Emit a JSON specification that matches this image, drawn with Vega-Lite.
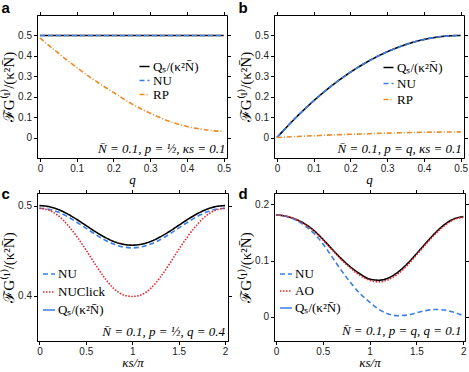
{
  "$schema": "https://vega.github.io/schema/vega-lite/v6.json",
  "padding": {"left": 1, "top": 0, "right": 0, "bottom": 0},
  "autosize": {"type": "pad"},
  "background": "#ffffff",
  "bounds": "flush",
  "columns": 2,
  "spacing": {"row": 35, "column": 46},
  "resolve": {"scale": {"color": "independent", "strokeDash": "independent"}, "legend": {"color": "independent", "strokeDash": "independent"}},
  "config": {
    "view": {"stroke": "#000000", "strokeWidth": 1},
    "axis": {"labelFont": "Liberation Sans", "labelFontSize": 10, "labelColor": "#222222", "tickColor": "#000000", "domainColor": "#000000", "tickSize": 3.5, "tickCount": 12, "labelPadding": 2, "grid": false, "labelFlush": false, "labelOverlap": false, "titleFont": "Liberation Serif", "titleFontWeight": "normal", "titleFontSize": 13, "titleColor": "#000000"},
    "axisX": {"titleFontStyle": "italic", "titleFontSize": 13, "titlePadding": 0},
    "axisY": {"titlePadding": 1, "titleFontSize": 15},
    "legend": {"orient": "none", "title": null, "symbolType": "stroke", "symbolStrokeWidth": 1.6, "labelFont": "Liberation Serif", "labelFontSize": 13, "labelColor": "#000000", "labelOffset": 2, "padding": 0},
    "title": {"font": "Liberation Sans", "fontSize": 15, "fontWeight": "bold", "anchor": "start", "frame": "bounds", "color": "#000000", "baseline": "alphabetic"},
    "line": {"interpolate": "monotone", "strokeWidth": 1.6},
    "text": {"font": "Liberation Serif", "fontSize": 13, "fontStyle": "italic", "color": "#000000"}
  },
  "datasets": {
    "a": [
      {"x": 0, "y": 0.5, "s": "Qₛ/(κ²N̄)"}, {"x": 0.5, "y": 0.5, "s": "Qₛ/(κ²N̄)"},
      {"x": 0, "y": 0.5, "s": "NU"}, {"x": 0.5, "y": 0.5, "s": "NU"},
      {"x": 0, "y": 0.488, "s": "RP"}, {"x": 0.025, "y": 0.45, "s": "RP"}, {"x": 0.05, "y": 0.413, "s": "RP"}, {"x": 0.075, "y": 0.377, "s": "RP"}, {"x": 0.1, "y": 0.343, "s": "RP"}, {"x": 0.125, "y": 0.31, "s": "RP"}, {"x": 0.15, "y": 0.279, "s": "RP"}, {"x": 0.175, "y": 0.249, "s": "RP"}, {"x": 0.2, "y": 0.221, "s": "RP"}, {"x": 0.225, "y": 0.192, "s": "RP"}, {"x": 0.25, "y": 0.165, "s": "RP"}, {"x": 0.275, "y": 0.141, "s": "RP"}, {"x": 0.3, "y": 0.119, "s": "RP"}, {"x": 0.325, "y": 0.099, "s": "RP"}, {"x": 0.35, "y": 0.081, "s": "RP"}, {"x": 0.375, "y": 0.066, "s": "RP"}, {"x": 0.4, "y": 0.054, "s": "RP"}, {"x": 0.425, "y": 0.045, "s": "RP"}, {"x": 0.45, "y": 0.038, "s": "RP"}, {"x": 0.475, "y": 0.033, "s": "RP"}, {"x": 0.5, "y": 0.03, "s": "RP"}
    ],
    "b": [
      {"x": 0, "y": 0, "s": "Qₛ/(κ²N̄)"}, {"x": 0.05, "y": 0.095, "s": "Qₛ/(κ²N̄)"}, {"x": 0.1, "y": 0.18, "s": "Qₛ/(κ²N̄)"}, {"x": 0.15, "y": 0.255, "s": "Qₛ/(κ²N̄)"}, {"x": 0.2, "y": 0.32, "s": "Qₛ/(κ²N̄)"}, {"x": 0.25, "y": 0.375, "s": "Qₛ/(κ²N̄)"}, {"x": 0.3, "y": 0.42, "s": "Qₛ/(κ²N̄)"}, {"x": 0.35, "y": 0.455, "s": "Qₛ/(κ²N̄)"}, {"x": 0.4, "y": 0.48, "s": "Qₛ/(κ²N̄)"}, {"x": 0.45, "y": 0.495, "s": "Qₛ/(κ²N̄)"}, {"x": 0.5, "y": 0.5, "s": "Qₛ/(κ²N̄)"},
      {"x": 0, "y": 0, "s": "NU"}, {"x": 0.05, "y": 0.095, "s": "NU"}, {"x": 0.1, "y": 0.18, "s": "NU"}, {"x": 0.15, "y": 0.255, "s": "NU"}, {"x": 0.2, "y": 0.32, "s": "NU"}, {"x": 0.25, "y": 0.375, "s": "NU"}, {"x": 0.3, "y": 0.42, "s": "NU"}, {"x": 0.35, "y": 0.455, "s": "NU"}, {"x": 0.4, "y": 0.48, "s": "NU"}, {"x": 0.45, "y": 0.495, "s": "NU"}, {"x": 0.5, "y": 0.5, "s": "NU"},
      {"x": 0, "y": 0, "s": "RP"}, {"x": 0.05, "y": 0.005, "s": "RP"}, {"x": 0.1, "y": 0.009, "s": "RP"}, {"x": 0.15, "y": 0.013, "s": "RP"}, {"x": 0.2, "y": 0.016, "s": "RP"}, {"x": 0.25, "y": 0.019, "s": "RP"}, {"x": 0.3, "y": 0.022, "s": "RP"}, {"x": 0.35, "y": 0.024, "s": "RP"}, {"x": 0.4, "y": 0.026, "s": "RP"}, {"x": 0.45, "y": 0.027, "s": "RP"}, {"x": 0.5, "y": 0.028, "s": "RP"}
    ],
    "c": [
      {"x": 0, "y": 0.5, "s": "Qₛ/(κ²N̄)"}, {"x": 0.1, "y": 0.4989, "s": "Qₛ/(κ²N̄)"}, {"x": 0.2, "y": 0.4958, "s": "Qₛ/(κ²N̄)"}, {"x": 0.3, "y": 0.4909, "s": "Qₛ/(κ²N̄)"}, {"x": 0.4, "y": 0.4848, "s": "Qₛ/(κ²N̄)"}, {"x": 0.5, "y": 0.478, "s": "Qₛ/(κ²N̄)"}, {"x": 0.6, "y": 0.4712, "s": "Qₛ/(κ²N̄)"}, {"x": 0.7, "y": 0.4651, "s": "Qₛ/(κ²N̄)"}, {"x": 0.8, "y": 0.4602, "s": "Qₛ/(κ²N̄)"}, {"x": 0.9, "y": 0.4571, "s": "Qₛ/(κ²N̄)"}, {"x": 1.0, "y": 0.456, "s": "Qₛ/(κ²N̄)"}, {"x": 1.1, "y": 0.4571, "s": "Qₛ/(κ²N̄)"}, {"x": 1.2, "y": 0.4602, "s": "Qₛ/(κ²N̄)"}, {"x": 1.3, "y": 0.4651, "s": "Qₛ/(κ²N̄)"}, {"x": 1.4, "y": 0.4712, "s": "Qₛ/(κ²N̄)"}, {"x": 1.5, "y": 0.478, "s": "Qₛ/(κ²N̄)"}, {"x": 1.6, "y": 0.4848, "s": "Qₛ/(κ²N̄)"}, {"x": 1.7, "y": 0.4909, "s": "Qₛ/(κ²N̄)"}, {"x": 1.8, "y": 0.4958, "s": "Qₛ/(κ²N̄)"}, {"x": 1.9, "y": 0.4989, "s": "Qₛ/(κ²N̄)"}, {"x": 2.0, "y": 0.5, "s": "Qₛ/(κ²N̄)"},
      {"x": 0, "y": 0.497, "s": "NU"}, {"x": 0.1, "y": 0.4959, "s": "NU"}, {"x": 0.2, "y": 0.4928, "s": "NU"}, {"x": 0.3, "y": 0.4879, "s": "NU"}, {"x": 0.4, "y": 0.4818, "s": "NU"}, {"x": 0.5, "y": 0.475, "s": "NU"}, {"x": 0.6, "y": 0.4682, "s": "NU"}, {"x": 0.7, "y": 0.4621, "s": "NU"}, {"x": 0.8, "y": 0.4572, "s": "NU"}, {"x": 0.9, "y": 0.4541, "s": "NU"}, {"x": 1.0, "y": 0.453, "s": "NU"}, {"x": 1.1, "y": 0.4541, "s": "NU"}, {"x": 1.2, "y": 0.4572, "s": "NU"}, {"x": 1.3, "y": 0.4621, "s": "NU"}, {"x": 1.4, "y": 0.4682, "s": "NU"}, {"x": 1.5, "y": 0.475, "s": "NU"}, {"x": 1.6, "y": 0.4818, "s": "NU"}, {"x": 1.7, "y": 0.4879, "s": "NU"}, {"x": 1.8, "y": 0.4928, "s": "NU"}, {"x": 1.9, "y": 0.4959, "s": "NU"}, {"x": 2.0, "y": 0.497, "s": "NU"},
      {"x": 0, "y": 0.497, "s": "NUClick"}, {"x": 0.1, "y": 0.495, "s": "NUClick"}, {"x": 0.2, "y": 0.489, "s": "NUClick"}, {"x": 0.3, "y": 0.479, "s": "NUClick"}, {"x": 0.4, "y": 0.466, "s": "NUClick"}, {"x": 0.5, "y": 0.451, "s": "NUClick"}, {"x": 0.6, "y": 0.435, "s": "NUClick"}, {"x": 0.7, "y": 0.42, "s": "NUClick"}, {"x": 0.8, "y": 0.408, "s": "NUClick"}, {"x": 0.9, "y": 0.401, "s": "NUClick"}, {"x": 1.0, "y": 0.399, "s": "NUClick"}, {"x": 1.1, "y": 0.401, "s": "NUClick"}, {"x": 1.2, "y": 0.408, "s": "NUClick"}, {"x": 1.3, "y": 0.42, "s": "NUClick"}, {"x": 1.4, "y": 0.435, "s": "NUClick"}, {"x": 1.5, "y": 0.451, "s": "NUClick"}, {"x": 1.6, "y": 0.466, "s": "NUClick"}, {"x": 1.7, "y": 0.479, "s": "NUClick"}, {"x": 1.8, "y": 0.489, "s": "NUClick"}, {"x": 1.9, "y": 0.495, "s": "NUClick"}, {"x": 2.0, "y": 0.497, "s": "NUClick"}
    ],
    "d": [
      {"x": 0, "y": 0.181, "s": "Qₛ/(κ²N̄)"}, {"x": 0.1, "y": 0.179, "s": "Qₛ/(κ²N̄)"}, {"x": 0.2, "y": 0.174, "s": "Qₛ/(κ²N̄)"}, {"x": 0.3, "y": 0.166, "s": "Qₛ/(κ²N̄)"}, {"x": 0.4, "y": 0.154, "s": "Qₛ/(κ²N̄)"}, {"x": 0.5, "y": 0.138, "s": "Qₛ/(κ²N̄)"}, {"x": 0.6, "y": 0.12, "s": "Qₛ/(κ²N̄)"}, {"x": 0.7, "y": 0.103, "s": "Qₛ/(κ²N̄)"}, {"x": 0.8, "y": 0.088, "s": "Qₛ/(κ²N̄)"}, {"x": 0.9, "y": 0.076, "s": "Qₛ/(κ²N̄)"}, {"x": 1.0, "y": 0.067, "s": "Qₛ/(κ²N̄)"}, {"x": 1.1, "y": 0.065, "s": "Qₛ/(κ²N̄)"}, {"x": 1.2, "y": 0.069, "s": "Qₛ/(κ²N̄)"}, {"x": 1.3, "y": 0.079, "s": "Qₛ/(κ²N̄)"}, {"x": 1.4, "y": 0.094, "s": "Qₛ/(κ²N̄)"}, {"x": 1.5, "y": 0.112, "s": "Qₛ/(κ²N̄)"}, {"x": 1.6, "y": 0.131, "s": "Qₛ/(κ²N̄)"}, {"x": 1.7, "y": 0.149, "s": "Qₛ/(κ²N̄)"}, {"x": 1.8, "y": 0.164, "s": "Qₛ/(κ²N̄)"}, {"x": 1.9, "y": 0.174, "s": "Qₛ/(κ²N̄)"}, {"x": 2.0, "y": 0.178, "s": "Qₛ/(κ²N̄)"},
      {"x": 0, "y": 0.181, "s": "NU"}, {"x": 0.1, "y": 0.179, "s": "NU"}, {"x": 0.2, "y": 0.173, "s": "NU"}, {"x": 0.3, "y": 0.163, "s": "NU"}, {"x": 0.4, "y": 0.149, "s": "NU"}, {"x": 0.5, "y": 0.13, "s": "NU"}, {"x": 0.6, "y": 0.106, "s": "NU"}, {"x": 0.7, "y": 0.082, "s": "NU"}, {"x": 0.8, "y": 0.06, "s": "NU"}, {"x": 0.9, "y": 0.041, "s": "NU"}, {"x": 1.0, "y": 0.026, "s": "NU"}, {"x": 1.1, "y": 0.013, "s": "NU"}, {"x": 1.2, "y": 0.005, "s": "NU"}, {"x": 1.3, "y": 0.002, "s": "NU"}, {"x": 1.4, "y": 0.003, "s": "NU"}, {"x": 1.5, "y": 0.007, "s": "NU"}, {"x": 1.6, "y": 0.011, "s": "NU"}, {"x": 1.7, "y": 0.013, "s": "NU"}, {"x": 1.8, "y": 0.012, "s": "NU"}, {"x": 1.9, "y": 0.008, "s": "NU"}, {"x": 2.0, "y": 0.002, "s": "NU"},
      {"x": 0, "y": 0.181, "s": "AO"}, {"x": 0.1, "y": 0.179, "s": "AO"}, {"x": 0.2, "y": 0.174, "s": "AO"}, {"x": 0.3, "y": 0.165, "s": "AO"}, {"x": 0.4, "y": 0.153, "s": "AO"}, {"x": 0.5, "y": 0.137, "s": "AO"}, {"x": 0.6, "y": 0.119, "s": "AO"}, {"x": 0.7, "y": 0.101, "s": "AO"}, {"x": 0.8, "y": 0.086, "s": "AO"}, {"x": 0.9, "y": 0.073, "s": "AO"}, {"x": 1.0, "y": 0.065, "s": "AO"}, {"x": 1.1, "y": 0.062, "s": "AO"}, {"x": 1.2, "y": 0.066, "s": "AO"}, {"x": 1.3, "y": 0.076, "s": "AO"}, {"x": 1.4, "y": 0.091, "s": "AO"}, {"x": 1.5, "y": 0.11, "s": "AO"}, {"x": 1.6, "y": 0.129, "s": "AO"}, {"x": 1.7, "y": 0.147, "s": "AO"}, {"x": 1.8, "y": 0.162, "s": "AO"}, {"x": 1.9, "y": 0.173, "s": "AO"}, {"x": 2.0, "y": 0.177, "s": "AO"}
    ]
  },
  "concat": [
    {
      "width": 190, "height": 143,
      "title": {"text": "a", "offset": -5},
      "resolve": {"axis": {"x": "independent", "y": "independent"}},
      "layer": [
        {
          "data": {"name": "a"},
          "mark": {"type": "line"},
          "encoding": {
            "x": {"field": "x", "type": "quantitative", "scale": {"domain": [-0.008, 0.509], "nice": false, "zero": false}, "axis": {"orient": "bottom", "values": [0, 0.1, 0.2, 0.3, 0.4, 0.5], "format": "~g", "title": "q"}},
            "y": {"field": "y", "type": "quantitative", "scale": {"domain": [-0.1, 0.6], "nice": false, "zero": false}, "axis": {"orient": "left", "values": [0, 0.1, 0.2, 0.3, 0.4, 0.5], "format": "~g", "title": "ℱG⁽¹⁾/(κ²N̄)"}},
            "color": {"field": "s", "type": "nominal", "sort": null, "scale": {"domain": ["Qₛ/(κ²N̄)", "NU", "RP"], "range": ["#000000", "#3a7fe8", "#ef8a26"]}, "legend": {"legendX": 101, "legendY": 45, "rowPadding": -1, "symbolSize": 100}},
            "strokeDash": {"field": "s", "type": "nominal", "sort": null, "scale": {"domain": ["Qₛ/(κ²N̄)", "NU", "RP"], "range": [[1, 0], [5, 3], [5, 2, 1, 2]]}, "legend": {"legendX": 101, "legendY": 45, "rowPadding": -1, "symbolSize": 100}}
          }
        },
        {
          "data": {"values": [{"x": 0.505, "y": -0.054, "t": "N̄ = 0.1,  p = ½,  κs = 0.1"}]},
          "mark": {"type": "text", "align": "right", "baseline": "middle"},
          "encoding": {
            "x": {"field": "x", "type": "quantitative", "axis": {"orient": "top", "values": [0, 0.1, 0.2, 0.3, 0.4, 0.5], "labels": false, "domain": false, "title": null}},
            "y": {"field": "y", "type": "quantitative", "axis": {"orient": "right", "values": [0, 0.1, 0.2, 0.3, 0.4, 0.5], "labels": false, "domain": false, "title": null}},
            "text": {"field": "t"}
          }
        }
      ]
    },
    {
      "width": 190, "height": 143,
      "title": {"text": "b", "offset": -5},
      "resolve": {"axis": {"x": "independent", "y": "independent"}},
      "layer": [
        {
          "data": {"name": "b"},
          "mark": {"type": "line"},
          "encoding": {
            "x": {"field": "x", "type": "quantitative", "scale": {"domain": [-0.008, 0.509], "nice": false, "zero": false}, "axis": {"orient": "bottom", "values": [0, 0.1, 0.2, 0.3, 0.4, 0.5], "format": "~g", "title": "q"}},
            "y": {"field": "y", "type": "quantitative", "scale": {"domain": [-0.1, 0.6], "nice": false, "zero": false}, "axis": {"orient": "left", "values": [0, 0.1, 0.2, 0.3, 0.4, 0.5], "format": "~g", "title": "ℱG⁽¹⁾/(κ²N̄)"}},
            "color": {"field": "s", "type": "nominal", "sort": null, "scale": {"domain": ["Qₛ/(κ²N̄)", "NU", "RP"], "range": ["#000000", "#3a7fe8", "#ef8a26"]}, "legend": {"legendX": 108, "legendY": 46, "rowPadding": 2, "symbolSize": 100}},
            "strokeDash": {"field": "s", "type": "nominal", "sort": null, "scale": {"domain": ["Qₛ/(κ²N̄)", "NU", "RP"], "range": [[1, 0], [5, 3], [5, 2, 1, 2]]}, "legend": {"legendX": 108, "legendY": 46, "rowPadding": 2, "symbolSize": 100}}
          }
        },
        {
          "data": {"values": [{"x": 0.503, "y": -0.054, "t": "N̄ = 0.1,  p = q,  κs = 0.1"}]},
          "mark": {"type": "text", "align": "right", "baseline": "middle"},
          "encoding": {
            "x": {"field": "x", "type": "quantitative", "axis": {"orient": "top", "values": [0, 0.1, 0.2, 0.3, 0.4, 0.5], "labels": false, "domain": false, "title": null}},
            "y": {"field": "y", "type": "quantitative", "axis": {"orient": "right", "values": [0, 0.1, 0.2, 0.3, 0.4, 0.5], "labels": false, "domain": false, "title": null}},
            "text": {"field": "t"}
          }
        }
      ]
    },
    {
      "width": 191, "height": 148,
      "title": {"text": "c", "offset": -13},
      "resolve": {"scale": {"color": "independent", "strokeDash": "independent"}, "legend": {"color": "independent", "strokeDash": "independent"}, "axis": {"x": "independent", "y": "independent"}},
      "layer": [
        {
          "data": {"name": "c"},
          "mark": {"type": "line"},
          "encoding": {
            "x": {"field": "x", "type": "quantitative", "scale": {"domain": [-0.026, 2.032], "nice": false, "zero": false}, "axis": {"orient": "bottom", "values": [0, 0.5, 1, 1.5, 2], "format": "~g", "title": "κs/π"}},
            "y": {"field": "y", "type": "quantitative", "scale": {"domain": [0.3495, 0.514], "nice": false, "zero": false}, "axis": {"orient": "left", "values": [0.4, 0.5], "format": "~g", "title": "ℱG⁽¹⁾/(κ²N̄)"}},
            "color": {"field": "s", "type": "nominal", "sort": null, "scale": {"domain": ["NU", "NUClick", "Qₛ/(κ²N̄)"], "range": ["#3a7fe8", "#e2262b", "#000000"]}, "legend": null},
            "strokeDash": {"field": "s", "type": "nominal", "sort": null, "scale": {"domain": ["NU", "NUClick", "Qₛ/(κ²N̄)"], "range": [[5, 3], [1.5, 1.5], [1, 0]]}, "legend": null}
          }
        },
        {
          "data": {"name": "c"},
          "transform": [{"filter": "false"}],
          "mark": {"type": "line"},
          "encoding": {
            "x": {"field": "x", "type": "quantitative", "axis": null},
            "y": {"field": "y", "type": "quantitative", "axis": null},
            "color": {"field": "s", "type": "nominal", "sort": null, "scale": {"domain": ["NU", "NUClick", "Qₛ/(κ²N̄)"], "range": ["#3a7fe8", "#e2262b", "#3a7fe8"]}, "legend": {"legendX": 5, "legendY": 74, "rowPadding": 4, "symbolSize": 144}},
            "strokeDash": {"field": "s", "type": "nominal", "sort": null, "scale": {"domain": ["NU", "NUClick", "Qₛ/(κ²N̄)"], "range": [[5, 3], [1.5, 1.5], [1, 0]]}, "legend": {"legendX": 5, "legendY": 74, "rowPadding": 4, "symbolSize": 144}}
          }
        },
        {
          "data": {"values": [{"x": 2.0, "y": 0.36, "t": "N̄ = 0.1,  p = ½,  q = 0.4"}]},
          "mark": {"type": "text", "align": "right", "baseline": "middle"},
          "encoding": {
            "x": {"field": "x", "type": "quantitative", "axis": {"orient": "top", "values": [0, 0.5, 1, 1.5, 2], "labels": false, "domain": false, "title": null}},
            "y": {"field": "y", "type": "quantitative", "axis": {"orient": "right", "values": [0.4, 0.5], "labels": false, "domain": false, "title": null}},
            "text": {"field": "t"}
          }
        }
      ]
    },
    {
      "width": 191, "height": 148,
      "title": {"text": "d", "offset": -13},
      "resolve": {"scale": {"color": "independent", "strokeDash": "independent"}, "legend": {"color": "independent", "strokeDash": "independent"}, "axis": {"x": "independent", "y": "independent"}},
      "layer": [
        {
          "data": {"name": "d"},
          "mark": {"type": "line"},
          "encoding": {
            "x": {"field": "x", "type": "quantitative", "scale": {"domain": [-0.021, 2.018], "nice": false, "zero": false}, "axis": {"orient": "bottom", "values": [0, 0.5, 1, 1.5, 2], "format": "~g", "title": "κs/π"}},
            "y": {"field": "y", "type": "quantitative", "scale": {"domain": [-0.043, 0.22], "nice": false, "zero": false}, "axis": {"orient": "left", "values": [0, 0.1, 0.2], "format": "~g", "title": "ℱG⁽¹⁾/(κ²N̄)"}},
            "color": {"field": "s", "type": "nominal", "sort": null, "scale": {"domain": ["NU", "AO", "Qₛ/(κ²N̄)"], "range": ["#3a7fe8", "#e2262b", "#000000"]}, "legend": null},
            "strokeDash": {"field": "s", "type": "nominal", "sort": null, "scale": {"domain": ["NU", "AO", "Qₛ/(κ²N̄)"], "range": [[5, 3], [1.5, 1.5], [1, 0]]}, "legend": null}
          }
        },
        {
          "data": {"name": "d"},
          "transform": [{"filter": "false"}],
          "mark": {"type": "line"},
          "encoding": {
            "x": {"field": "x", "type": "quantitative", "axis": null},
            "y": {"field": "y", "type": "quantitative", "axis": null},
            "color": {"field": "s", "type": "nominal", "sort": null, "scale": {"domain": ["NU", "AO", "Qₛ/(κ²N̄)"], "range": ["#3a7fe8", "#e2262b", "#3a7fe8"]}, "legend": {"legendX": 5, "legendY": 74, "rowPadding": 3, "symbolSize": 144}},
            "strokeDash": {"field": "s", "type": "nominal", "sort": null, "scale": {"domain": ["NU", "AO", "Qₛ/(κ²N̄)"], "range": [[5, 3], [1.5, 1.5], [1, 0]]}, "legend": {"legendX": 5, "legendY": 74, "rowPadding": 3, "symbolSize": 144}}
          }
        },
        {
          "data": {"values": [{"x": 1.98, "y": -0.026, "t": "N̄ = 0.1,  p = q,  q = 0.1"}]},
          "mark": {"type": "text", "align": "right", "baseline": "middle"},
          "encoding": {
            "x": {"field": "x", "type": "quantitative", "axis": {"orient": "top", "values": [0, 0.5, 1, 1.5, 2], "labels": false, "domain": false, "title": null}},
            "y": {"field": "y", "type": "quantitative", "axis": {"orient": "right", "values": [0, 0.1, 0.2], "labels": false, "domain": false, "title": null}},
            "text": {"field": "t"}
          }
        }
      ]
    }
  ]
}
